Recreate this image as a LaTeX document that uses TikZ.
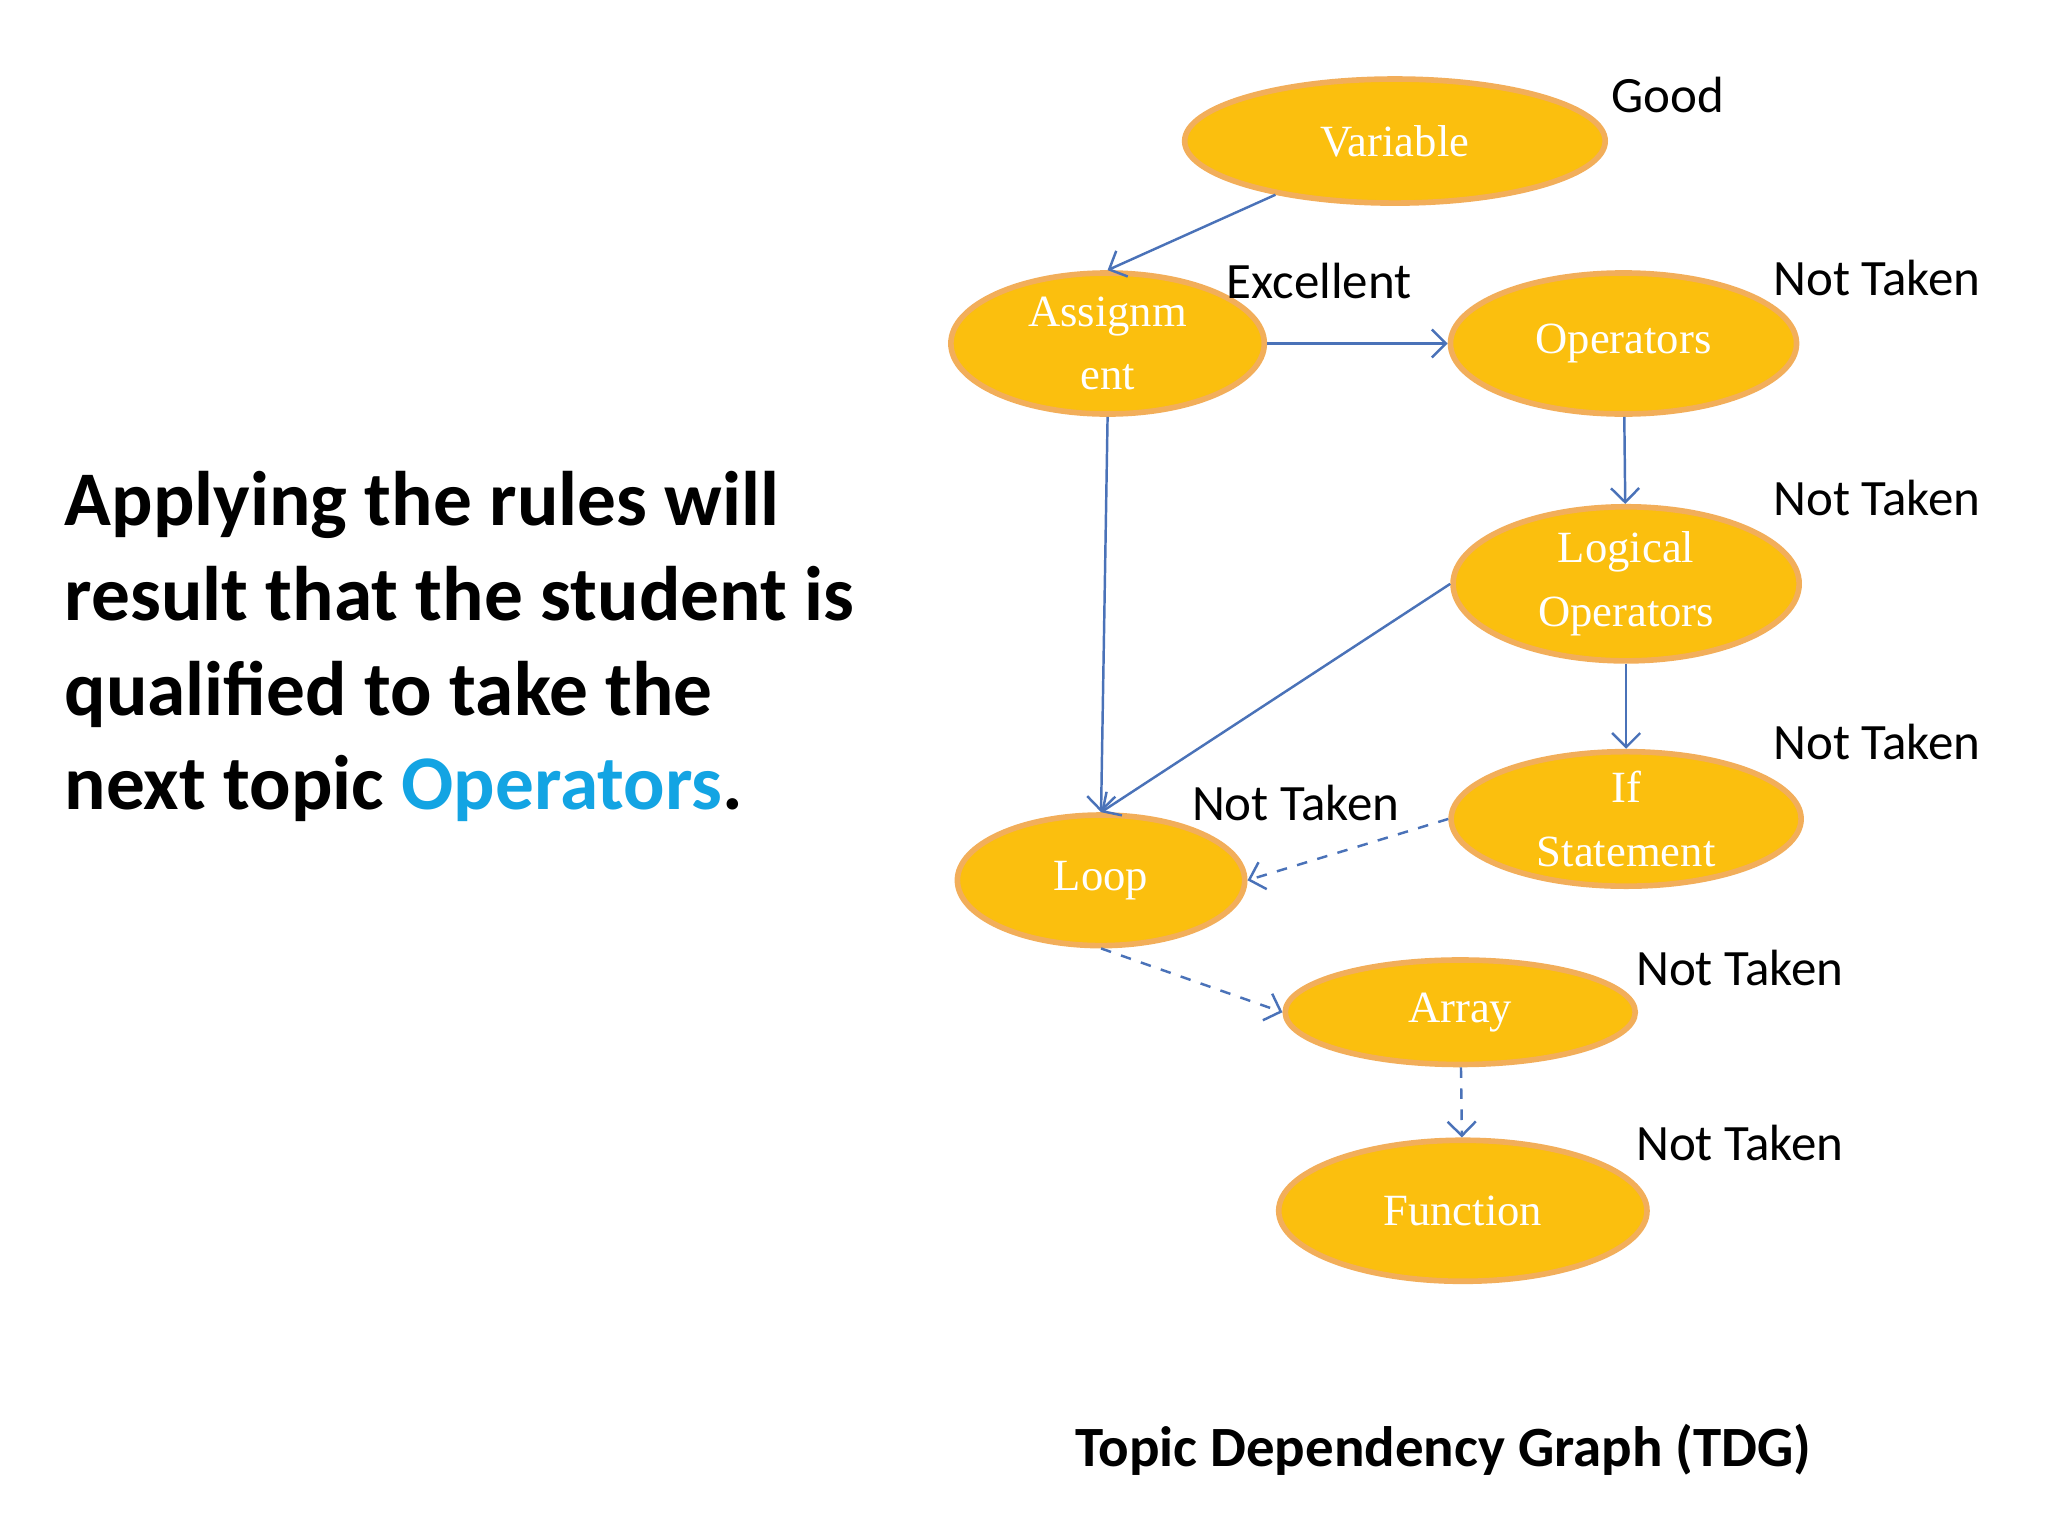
\documentclass[tikz,border=0pt]{standalone}
\usepackage{fontspec}
\setmainfont{Liberation Serif}
\newfontfamily\labelfont{Carlito}
\usetikzlibrary{arrows.meta, shapes.geometric}
\definecolor{topicfill}{HTML}{FBBF0E}
\definecolor{topicline}{HTML}{F2AE5A}
\definecolor{linkblue}{HTML}{4A72B8}
\definecolor{opblue}{HTML}{13A4E3}

\begin{document}
\begin{tikzpicture}[x=0.01306cm, y=0.01306cm,
  topic/.style={ellipse, draw=topicline, line width=1.6pt, fill=topicfill,
    text=white, font=\fontsize{12.7}{18}\selectfont, align=center, inner sep=0pt},
  %
  status/.style={font=\labelfont\fontsize{14.5}{17}\selectfont, text=black},
  %
  link/.style={draw=linkblue, line width=.7pt, -{Straight Barb[length=4pt,width=8pt]}},
  %
  weak/.style={link, dashed}
  ]

  \useasboundingbox (0,0) rectangle (1568,-1176);

  % topics
  \node [topic, minimum width={322*0.3716pt}, minimum height={95*0.3716pt}] (variable) at (1068,-108) {Variable};
  \node [topic, minimum width={240*0.3716pt}, minimum height={108*0.3716pt}] (assign) at (848,-263) {Assignm\\ent};
  \node [topic, minimum width={265*0.3716pt}, minimum height={108*0.3716pt}] (operators) at (1243,-263) {Operators};
  \node [topic, minimum width={265*0.3716pt}, minimum height={118*0.3716pt}] (logical) at (1245,-447) {Logical\\Operators};
  \node [topic, minimum width={268*0.3716pt}, minimum height={100*0.3716pt}] (ifstmt) at (1245,-627) {If\\Statement};
  \node [topic, minimum width={220*0.3716pt}, minimum height={100*0.3716pt}] (loop) at (843,-674) {Loop};
  \node [topic, minimum width={268*0.3716pt}, minimum height={80*0.3716pt}] (array) at (1118,-775) {Array};
  \node [topic, minimum width={282*0.3716pt}, minimum height={108*0.3716pt}] (function) at (1120,-927) {Function};

  % status labels
  \node [status] (sgood) at (1277,-73) {Good};
  \node [status] (sexc) at (1010,-215) {Excellent};
  \node [status] (sop) at (1437,-213) {Not Taken};
  \node [status] (slog) at (1437,-381) {Not Taken};
  \node [status] (sif) at (1437,-568) {Not Taken};
  \node [status] (sloop) at (992,-615) {Not Taken};
  \node [status] (sarr) at (1332,-741) {Not Taken};
  \node [status] (sfun) at (1332,-875) {Not Taken};

  % dependencies
  \draw [link] (variable) -- (assign.north);
  \draw [link] (assign) -- (operators);
  \draw [link] (operators) -- (logical);
  \draw [link] (assign.south) -- (loop.north);
  \draw [link] (logical.west) -- (loop.north);
  \draw [link] (logical) -- (ifstmt);
  \draw [weak] (ifstmt.west) -- (loop.east);
  \draw [weak] (loop.south) -- (array.west);
  \draw [weak] (array) -- (function);

  % text
  \node [anchor=west, align=left, font=\labelfont\bfseries\fontsize{22}{27}\selectfont]
    (rule) at (40,-495) {Applying the rules will\\result that the student is\\qualified to take the\\next topic \textcolor{opblue}{Operators}.};
  \node [font=\labelfont\bfseries\fontsize{16.2}{20}\selectfont] (title) at (1105,-1110)
    {Topic Dependency Graph (TDG)};
\end{tikzpicture}
\end{document}
